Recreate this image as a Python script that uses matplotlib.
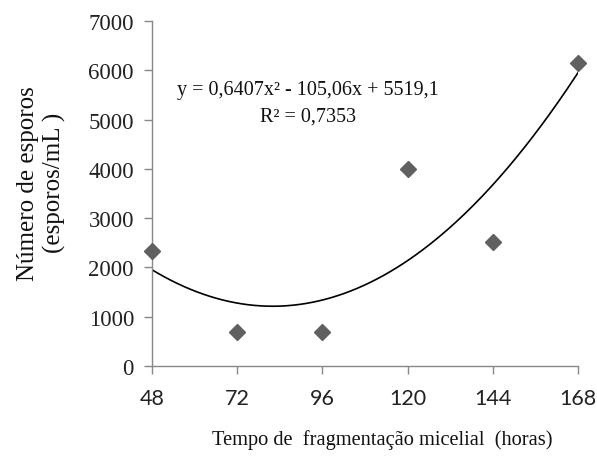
import numpy as np
import matplotlib.pyplot as plt

# data
horas = [48, 72, 96, 120, 144, 168]
esporos = [2330, 690, 690, 4000, 2510, 6150]
xticks = [48, 72, 96, 120, 144, 168]
yticks = [0, 1000, 2000, 3000, 4000, 5000, 6000, 7000]

# quadratic trend line from the equation shown
coef = [0.6407, -105.06, 5519.1]

fig = plt.figure(figsize=(5.97, 4.64), dpi=100)
ax = fig.add_axes([0.2546, 0.2091, 0.7136, 0.7435])

xs = np.linspace(48, 168, 200)
ax.plot(xs, np.polyval(coef, xs), color='black', lw=1.2, zorder=2)
ax.plot(horas, esporos, ls='none', marker='D', ms=8.5, color='#606060',
        zorder=3, clip_on=False)

ax.set_xlim(48, 168)
ax.set_ylim(0, 7000)
ax.set_xticks(xticks)
ax.set_yticks(yticks)
ax.set_xticklabels([str(v) for v in xticks], family='Lato', fontsize=15.5)
ax.set_yticklabels([str(v) for v in yticks], family='Liberation Serif', fontsize=16.5)
ax.tick_params(axis='both', direction='out', length=6, width=1, color='#888888',
               colors='#222222')
ax.tick_params(axis='x', pad=10)
ax.tick_params(axis='y', pad=7)

for s in ['top', 'right']:
    ax.spines[s].set_visible(False)
for s in ['left', 'bottom']:
    ax.spines[s].set_color('#888888')
    ax.spines[s].set_linewidth(1)

fig.text(0.64, 0.052, 'Tempo de  fragmentação micelial  (horas)',
         family='Liberation Serif', fontsize=14.7, ha='center', va='center',
         color='#111111')
fig.text(0.047, 0.605, 'Número de esporos', rotation=90,
         family='Liberation Serif', fontsize=18, ha='center', va='center',
         color='#111111')
fig.text(0.091, 0.605, '(esporos/mL )', rotation=90,
         family='Liberation Serif', fontsize=18, ha='center', va='center',
         color='#111111')

ax.text(92, 5620, 'y = 0,6407x² - 105,06x + 5519,1', family='Liberation Serif',
        fontsize=14.5, ha='center', va='center', color='#111111')
ax.text(92, 5070, 'R² = 0,7353', family='Liberation Serif',
        fontsize=14.5, ha='center', va='center', color='#111111')

fig.savefig('out.png', dpi=100)
